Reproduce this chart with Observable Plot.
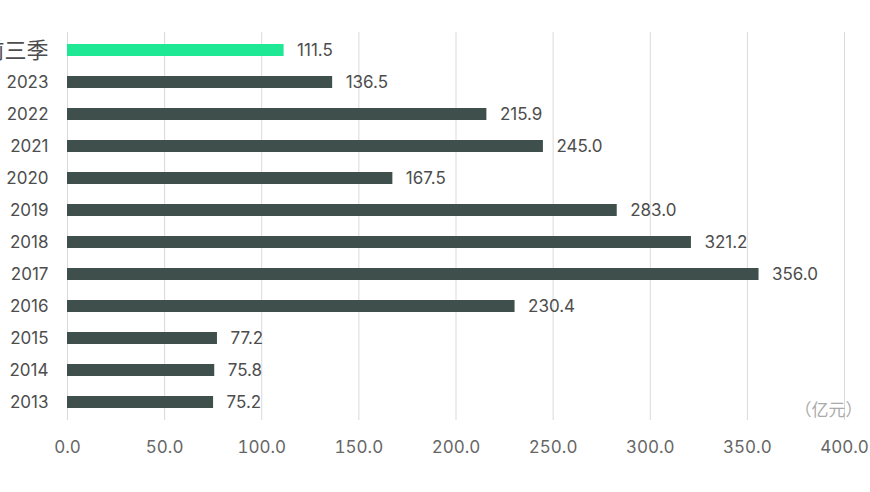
<!DOCTYPE html>
<html>
<head>
<meta charset="utf-8">
<script src="https://cdn.jsdelivr.net/npm/d3@7"></script>
<script src="https://cdn.jsdelivr.net/npm/@observablehq/plot@0.6"></script>
<style>
  html, body { margin: 0; padding: 0; background: #fff; }
  #chart { width: 870px; height: 492px; overflow: hidden; }
</style>
</head>
<body>
<div id="chart"></div>
<script>
const categories = ["2024年前三季", "2023", "2022", "2021", "2020", "2019", "2018", "2017", "2016", "2015", "2014", "2013"];
const values = [111.5, 136.5, 215.9, 245.0, 167.5, 283.0, 321.2, 356.0, 230.4, 77.2, 75.8, 75.2];
const highlight = ["2024年前三季"];
const xTicks = [0, 50, 100, 150, 200, 250, 300, 350, 400];
const unitLabel = "（亿元）";

const data = categories.map((c, i) => ({category: c, value: values[i]}));
const font = "Inter, 'Noto Sans CJK SC', sans-serif";
const isCJK = s => /[\u4e00-\u9fff]/.test(s);

const chart = Plot.plot({
  width: 870,
  height: 492,
  marginLeft: 67,
  marginRight: 26,
  marginTop: 32,
  marginBottom: 72,
  style: {fontFamily: font, background: "#fff", overflow: "hidden"},
  x: {domain: [0, 400], ticks: xTicks, tickFormat: d => d.toFixed(1)},
  y: {domain: categories, paddingInner: 0.64, paddingOuter: 0.315, align: 0.5, axis: null},
  marks: [
    Plot.gridX(xTicks, {stroke: "#d9d9d9", strokeOpacity: 1, strokeWidth: 1}),
    Plot.barX(data, {
      y: "category", x: "value",
      fill: d => highlight.includes(d.category) ? "#1fe895" : "#3e4f4c"
    }),
    Plot.text(data, {
      y: "category", x: "value", text: d => d.value.toFixed(1),
      textAnchor: "start", dx: 13, fill: "#4d4d4d", fontSize: 17, letterSpacing: "-0.3px"
    }),
    Plot.text(categories.filter(d => !isCJK(d)), {
      y: d => d, text: d => d, frameAnchor: "left", textAnchor: "end", dx: -19,
      fill: "#4d4d4d", fontSize: 17, letterSpacing: "-0.3px"
    }),
    Plot.text(categories.filter(isCJK), {
      y: d => d, text: d => d, frameAnchor: "left", textAnchor: "end", dx: -19,
      fill: "#4d4d4d", fontSize: 22
    }),
    Plot.axisX({ticks: xTicks, tickFormat: d => d.toFixed(1), tickSize: 0, tickPadding: 20, fontSize: 17, color: "#666", label: null}),
    Plot.text([unitLabel], {
      text: d => d, frameAnchor: "bottom-right", dx: 18, dy: -5,
      textAnchor: "end", fill: "#aaa", fontSize: 17
    })
  ]
});
document.getElementById("chart").appendChild(chart);
</script>
</body>
</html>
